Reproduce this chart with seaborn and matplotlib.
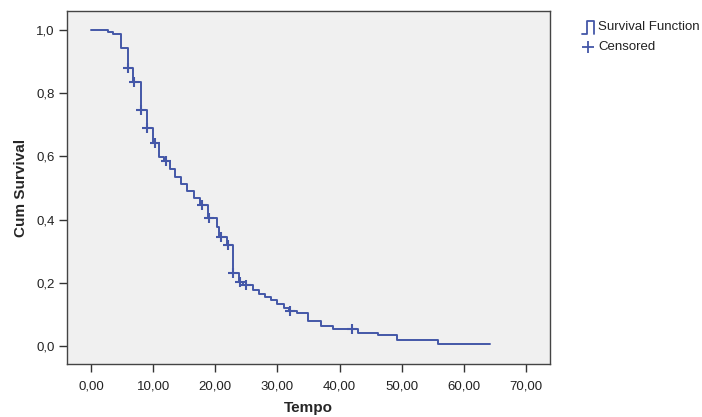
import numpy as np
import pandas as pd
import matplotlib
matplotlib.use("Agg")
import matplotlib.pyplot as plt
from matplotlib.lines import Line2D
import seaborn as sns

# Step function (time, cumulative survival after each drop)
times = [0, 2.7, 3.5, 4.75, 5.95, 6.76, 8.05, 9.0, 10.0, 11.0, 11.7, 12.7, 13.5,
         14.5, 15.5, 16.5, 17.5, 18.8, 20.2, 20.6, 21.9, 22.8, 23.8, 24.5, 26.0,
         27.0, 28.0, 29.0, 30.0, 31.0, 31.8, 33.2, 34.9, 37.0, 38.9, 42.9, 46.2,
         49.2, 55.8, 64.2]
surv = [1.0, 0.994, 0.987, 0.943, 0.880, 0.835, 0.747, 0.690, 0.642, 0.598, 0.585,
        0.560, 0.535, 0.512, 0.490, 0.468, 0.446, 0.405, 0.377, 0.345, 0.318, 0.231,
        0.203, 0.193, 0.178, 0.165, 0.155, 0.145, 0.133, 0.120, 0.110, 0.104, 0.079,
        0.063, 0.054, 0.041, 0.035, 0.019, 0.006, 0.006]
censored_times = [6.0, 6.9, 8.1, 9.05, 10.3, 12.0, 17.9, 19.0, 20.9, 22.0, 22.9,
                  23.9, 25.0, 32.0, 42.0]
x_ticks = [0, 10, 20, 30, 40, 50, 60, 70]
x_labels = ["0,00", "10,00", "20,00", "30,00", "40,00", "50,00", "60,00", "70,00"]
y_ticks = [0.0, 0.2, 0.4, 0.6, 0.8, 1.0]
y_labels = ["0,0", "0,2", "0,4", "0,6", "0,8", "1,0"]

t_arr = np.array(times)
s_arr = np.array(surv)
idx = np.searchsorted(t_arr, np.array(censored_times), side="right") - 1
cens_surv = s_arr[idx]

df_line = pd.DataFrame({"Tempo": times, "Cum Survival": surv})
df_cens = pd.DataFrame({"Tempo": censored_times, "Cum Survival": cens_surv})

sns.set_style("white")
plt.rcParams["font.family"] = ["Liberation Sans", "DejaVu Sans"]

W, H = 702, 417
fig = plt.figure(figsize=(W / 100, H / 100), dpi=100)
L, R, T, B = 67, 550, 11, 364
ax = fig.add_axes([L / W, 1 - B / H, (R - L) / W, (B - T) / H])
ax.set_facecolor("#F0F0F0")

color = "#4457A8"
sns.lineplot(data=df_line, x="Tempo", y="Cum Survival", ax=ax, color=color,
             drawstyle="steps-post", linewidth=1.4, estimator=None, sort=False)
sns.scatterplot(data=df_cens, x="Tempo", y="Cum Survival", ax=ax, color=color,
                marker="+", s=60, linewidth=1.5, zorder=3)

ax.set_xlim(-3.86, 73.86)
ax.set_ylim(-0.057, 1.060)
ax.set_xticks(x_ticks)
ax.set_xticklabels(x_labels)
ax.set_yticks(y_ticks)
ax.set_yticklabels(y_labels)
ax.tick_params(axis="both", which="major", direction="out", length=6, width=1,
               color="#333333", labelsize=9.5, labelcolor="#222222", pad=3,
               bottom=True, left=True, top=False, right=False)
ax.tick_params(axis="x", pad=6)
for sp in ax.spines.values():
    sp.set_visible(True)
    sp.set_color("#444444")
    sp.set_linewidth(1.0)
ax.set_xlabel("Tempo", fontsize=11, fontweight="bold", labelpad=6)
ax.set_ylabel("Cum Survival", fontsize=11, fontweight="bold", labelpad=6)

# Legend (outside, right)
def fx(px):
    return px / W
def fy(py):
    return 1 - py / H

icon_x = [582, 587, 587, 594, 594]
icon_y = [34, 34, 21, 21, 34]
fig.add_artist(Line2D([fx(v) for v in icon_x], [fy(v) for v in icon_y],
                      color=color, linewidth=1.3, transform=fig.transFigure))
fig.add_artist(Line2D([fx(588)], [fy(47)], color=color, marker="+", markersize=9,
                      markeredgewidth=1.3, linestyle="none", transform=fig.transFigure))
fig.text(fx(598), fy(27), "Survival Function", fontsize=9.5, va="center", ha="left",
         color="#222222")
fig.text(fx(598), fy(47), "Censored", fontsize=9.5, va="center", ha="left",
         color="#222222")

fig.savefig("out.png", dpi=100)
